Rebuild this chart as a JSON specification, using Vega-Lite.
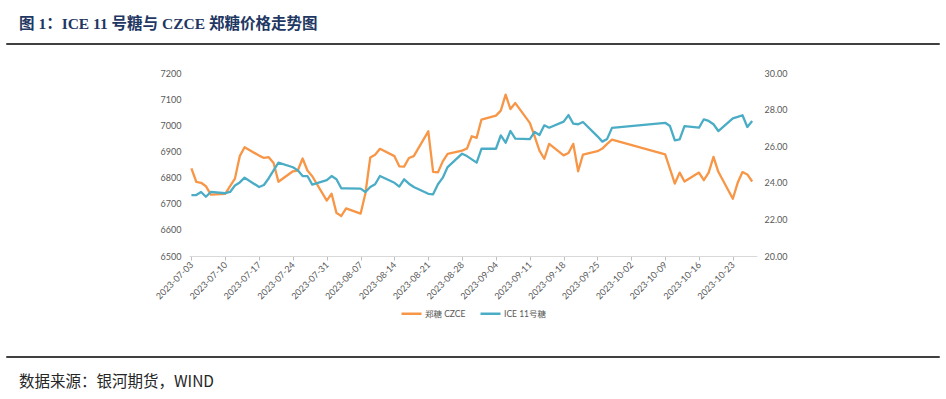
{
  "$schema": "https://vega.github.io/schema/vega-lite/v6.json",
  "background": "white",
  "padding": {"left": 6, "top": 15, "right": 5, "bottom": 0},
  "config": {
    "view": {"stroke": null},
    "font": "Lato",
    "legend": {"layout": {"bottom": {"anchor": "middle"}}}
  },
  "datasets": {
    "prices": [
      {"date": "2023-07-03", "czce": 6835, "ice": 23.33},
      {"date": "2023-07-04", "czce": 6784, "ice": 23.33},
      {"date": "2023-07-05", "czce": 6780, "ice": 23.50},
      {"date": "2023-07-06", "czce": 6767, "ice": 23.24},
      {"date": "2023-07-07", "czce": 6735, "ice": 23.50},
      {"date": "2023-07-10", "czce": 6738, "ice": 23.43},
      {"date": "2023-07-11", "czce": 6767, "ice": 23.50},
      {"date": "2023-07-12", "czce": 6796, "ice": 23.85},
      {"date": "2023-07-13", "czce": 6882, "ice": 24.02},
      {"date": "2023-07-14", "czce": 6916, "ice": 24.28},
      {"date": "2023-07-17", "czce": 6884, "ice": 23.77},
      {"date": "2023-07-18", "czce": 6875, "ice": 23.88},
      {"date": "2023-07-19", "czce": 6878, "ice": 24.25},
      {"date": "2023-07-20", "czce": 6856, "ice": 24.68},
      {"date": "2023-07-21", "czce": 6784, "ice": 25.10},
      {"date": "2023-07-24", "czce": 6824, "ice": 24.85},
      {"date": "2023-07-25", "czce": 6827, "ice": 24.68},
      {"date": "2023-07-26", "czce": 6873, "ice": 24.37},
      {"date": "2023-07-27", "czce": 6827, "ice": 24.37},
      {"date": "2023-07-28", "czce": 6805, "ice": 23.90},
      {"date": "2023-07-31", "czce": 6712, "ice": 24.15},
      {"date": "2023-08-01", "czce": 6738, "ice": 24.37},
      {"date": "2023-08-02", "czce": 6665, "ice": 24.19},
      {"date": "2023-08-03", "czce": 6653, "ice": 23.70},
      {"date": "2023-08-04", "czce": 6682, "ice": 23.70},
      {"date": "2023-08-07", "czce": 6662, "ice": 23.68},
      {"date": "2023-08-08", "czce": 6740, "ice": 23.50},
      {"date": "2023-08-09", "czce": 6877, "ice": 23.77},
      {"date": "2023-08-10", "czce": 6887, "ice": 23.92},
      {"date": "2023-08-11", "czce": 6910, "ice": 24.37},
      {"date": "2023-08-14", "czce": 6882, "ice": 24.00},
      {"date": "2023-08-15", "czce": 6843, "ice": 23.79},
      {"date": "2023-08-16", "czce": 6842, "ice": 24.19},
      {"date": "2023-08-17", "czce": 6875, "ice": 23.95},
      {"date": "2023-08-18", "czce": 6882, "ice": 23.77},
      {"date": "2023-08-21", "czce": 6977, "ice": 23.40},
      {"date": "2023-08-22", "czce": 6822, "ice": 23.37},
      {"date": "2023-08-23", "czce": 6820, "ice": 23.92},
      {"date": "2023-08-24", "czce": 6862, "ice": 24.28},
      {"date": "2023-08-25", "czce": 6891, "ice": 24.86},
      {"date": "2023-08-28", "czce": 6903, "ice": 25.59},
      {"date": "2023-08-29", "czce": 6911, "ice": 25.46},
      {"date": "2023-08-30", "czce": 6958, "ice": 25.28},
      {"date": "2023-08-31", "czce": 6952, "ice": 25.10},
      {"date": "2023-09-01", "czce": 7022, "ice": 25.86},
      {"date": "2023-09-04", "czce": 7037, "ice": 25.86},
      {"date": "2023-09-05", "czce": 7056, "ice": 26.59},
      {"date": "2023-09-06", "czce": 7117, "ice": 26.19},
      {"date": "2023-09-07", "czce": 7062, "ice": 26.83},
      {"date": "2023-09-08", "czce": 7085, "ice": 26.41},
      {"date": "2023-09-11", "czce": 7009, "ice": 26.39},
      {"date": "2023-09-12", "czce": 6958, "ice": 26.78},
      {"date": "2023-09-13", "czce": 6903, "ice": 26.61},
      {"date": "2023-09-14", "czce": 6872, "ice": 27.14},
      {"date": "2023-09-15", "czce": 6929, "ice": 27.01},
      {"date": "2023-09-18", "czce": 6885, "ice": 27.34},
      {"date": "2023-09-19", "czce": 6894, "ice": 27.70},
      {"date": "2023-09-20", "czce": 6929, "ice": 27.23},
      {"date": "2023-09-21", "czce": 6824, "ice": 27.20},
      {"date": "2023-09-22", "czce": 6888, "ice": 27.32},
      {"date": "2023-09-25", "czce": 6901, "ice": 26.54},
      {"date": "2023-09-26", "czce": 6911, "ice": 26.25},
      {"date": "2023-09-27", "czce": 6929, "ice": 26.40},
      {"date": "2023-09-28", "czce": 6945, "ice": 27.00},
      {"date": "2023-10-09", "czce": 6889, "ice": 27.28},
      {"date": "2023-10-10", "czce": 6833, "ice": 27.10},
      {"date": "2023-10-11", "czce": 6777, "ice": 26.32},
      {"date": "2023-10-12", "czce": 6819, "ice": 26.37},
      {"date": "2023-10-13", "czce": 6785, "ice": 27.10},
      {"date": "2023-10-16", "czce": 6819, "ice": 27.01},
      {"date": "2023-10-17", "czce": 6790, "ice": 27.47},
      {"date": "2023-10-18", "czce": 6819, "ice": 27.38},
      {"date": "2023-10-19", "czce": 6879, "ice": 27.20},
      {"date": "2023-10-20", "czce": 6822, "ice": 26.83},
      {"date": "2023-10-23", "czce": 6719, "ice": 27.52},
      {"date": "2023-10-24", "czce": 6780, "ice": 27.60},
      {"date": "2023-10-25", "czce": 6821, "ice": 27.69},
      {"date": "2023-10-26", "czce": 6812, "ice": 27.05},
      {"date": "2023-10-27", "czce": 6785, "ice": 27.38}
    ]
  },
  "spacing": 24,
  "resolve": {"scale": {"color": "independent"}, "legend": {"color": "independent"}},
  "vconcat": [
    {
      "width": 932,
      "height": 0.01,
      "view": {"stroke": "#000000", "strokeWidth": 1.5},
      "title": {
        "text": "图 1：ICE 11 号糖与 CZCE 郑糖价格走势图",
        "anchor": "start",
        "dx": 12,
        "offset": 12,
        "font": "Liberation Serif, Noto Sans CJK SC",
        "fontSize": 15.5,
        "fontWeight": "bold",
        "color": "#1F3763"
      },
      "data": {"values": []},
      "mark": "point"
    },
    {
      "spacing": 37,
      "resolve": {"scale": {"color": "independent"}, "legend": {"color": "independent"}},
      "vconcat": [
        {
          "spacing": 0,
          "resolve": {"scale": {"color": "independent"}, "legend": {"color": "independent"}},
          "hconcat": [
            {
              "width": 147,
              "height": 1,
              "data": {"values": []},
              "mark": "point"
            },
            {
              "width": 568,
              "height": 183,
              "data": {"name": "prices"},
              "encoding": {
                "x": {
                  "field": "date",
                  "type": "temporal",
                  "scale": {
                    "type": "utc",
                    "domain": [
                      {"year": 2023, "month": 7, "date": 2, "hours": 12, "utc": true},
                      {"year": 2023, "month": 10, "date": 28, "utc": true}
                    ]
                  },
                  "axis": {
                    "title": null,
                    "values": [
                      {"year": 2023, "month": 7, "date": 3, "utc": true},
                      {"year": 2023, "month": 7, "date": 10, "utc": true},
                      {"year": 2023, "month": 7, "date": 17, "utc": true},
                      {"year": 2023, "month": 7, "date": 24, "utc": true},
                      {"year": 2023, "month": 7, "date": 31, "utc": true},
                      {"year": 2023, "month": 8, "date": 7, "utc": true},
                      {"year": 2023, "month": 8, "date": 14, "utc": true},
                      {"year": 2023, "month": 8, "date": 21, "utc": true},
                      {"year": 2023, "month": 8, "date": 28, "utc": true},
                      {"year": 2023, "month": 9, "date": 4, "utc": true},
                      {"year": 2023, "month": 9, "date": 11, "utc": true},
                      {"year": 2023, "month": 9, "date": 18, "utc": true},
                      {"year": 2023, "month": 9, "date": 25, "utc": true},
                      {"year": 2023, "month": 10, "date": 2, "utc": true},
                      {"year": 2023, "month": 10, "date": 9, "utc": true},
                      {"year": 2023, "month": 10, "date": 16, "utc": true},
                      {"year": 2023, "month": 10, "date": 23, "utc": true}
                    ],
                    "labelExpr": "utcFormat(datum.value, '%Y-%m-%d')",
                    "labelAngle": -45,
                    "labelAlign": "right",
                    "labelBaseline": "middle",
                    "labelFontSize": 9,
                    "labelColor": "#595959",
                    "labelPadding": 3,
                    "labelOverlap": false,
                    "grid": false,
                    "domainColor": "#D9D9D9",
                    "domainWidth": 1,
                    "tickColor": "#BFBFBF",
                    "tickSize": 4
                  }
                }
              },
              "layer": [
                {
                  "mark": {"type": "line", "strokeWidth": 2.3, "strokeJoin": "round"},
                  "encoding": {
                    "y": {
                      "field": "czce",
                      "type": "quantitative",
                      "scale": {"domain": [6500, 7200], "zero": false, "nice": false},
                      "axis": {
                        "orient": "left",
                        "title": null,
                        "values": [6500, 6600, 6700, 6800, 6900, 7000, 7100, 7200],
                        "format": "d",
                        "grid": false,
                        "domain": false,
                        "ticks": false,
                        "labelPadding": 8,
                        "labelFontSize": 9,
                        "labelColor": "#595959"
                      }
                    },
                    "color": {
                      "datum": "郑糖 CZCE",
                      "type": "nominal",
                      "scale": {
                        "domain": ["郑糖 CZCE", "ICE 11号糖"],
                        "range": ["#F79646", "#4BACC6"]
                      },
                      "legend": {
                        "title": null,
                        "orient": "bottom",
                        "direction": "horizontal",
                        "offset": 1,
                        "symbolType": "stroke",
                        "symbolSize": 400,
                        "symbolStrokeWidth": 2.5,
                        "labelFont": "Lato, Noto Sans CJK SC",
                        "labelFontSize": 8.5,
                        "labelColor": "#595959",
                        "labelOffset": 2,
                        "columnPadding": 9
                      }
                    }
                  }
                },
                {
                  "mark": {"type": "line", "strokeWidth": 2.3, "strokeJoin": "round"},
                  "encoding": {
                    "y": {
                      "field": "ice",
                      "type": "quantitative",
                      "scale": {"domain": [20, 30], "zero": false, "nice": false},
                      "axis": {
                        "orient": "right",
                        "title": null,
                        "values": [20, 22, 24, 26, 28, 30],
                        "format": ".2f",
                        "grid": false,
                        "domain": false,
                        "ticks": false,
                        "labelPadding": 7,
                        "labelFontSize": 9,
                        "labelColor": "#595959"
                      }
                    },
                    "color": {"datum": "ICE 11号糖", "type": "nominal"}
                  }
                }
              ],
              "resolve": {"scale": {"y": "independent"}}
            }
          ]
        },
        {
          "width": 932,
          "height": 0.01,
          "view": {"stroke": "#000000", "strokeWidth": 1.5},
          "title": {
            "text": "数据来源：银河期货，WIND",
            "orient": "bottom",
            "anchor": "start",
            "dx": 12,
            "offset": 18,
            "font": "Noto Sans CJK SC",
            "fontSize": 15.5,
            "fontWeight": "normal",
            "color": "#262626"
          },
          "data": {"values": []},
          "mark": "point"
        }
      ]
    }
  ]
}
